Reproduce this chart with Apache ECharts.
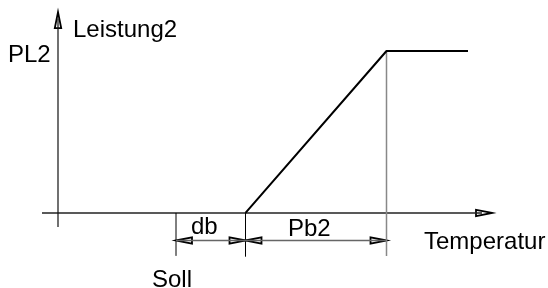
<!DOCTYPE html>
<html>
<head>
<meta charset="utf-8">
<script src="https://cdn.jsdelivr.net/npm/echarts@6/dist/echarts.min.js"></script>
<style>
  html, body { margin: 0; padding: 0; background: #fff; }
  #main { width: 548px; height: 288px; }
</style>
</head>
<body>
<div id="main"></div>
<script>
// Kennlinie Leistung2 ueber Temperatur
const tempRange = [-1.6, 43.4]      // Temperatur-Achse
const powerRange = [-8.6, 124]      // Leistung-Achse (Pfeilspitze oben)
const markT = [11.8, 18.75, 32.85]  // Soll, Soll+db, Soll+db+Pb2
const kennlinieT = [18.75, 32.85, 41.0]
const kennlinieP = [0, 100, 100]    // PL2 = 100
const dimY = -17                    // Masslinie db / Pb2
const guideBottom = [-26.5, -27, -26.5]

const txtFont = '24px "Liberation Sans", Arial, sans-serif'

function seg(points, color, width) {
  return {
    type: 'line',
    data: points,
    symbol: 'none',
    silent: true,
    lineStyle: { color: color, width: width },
    animation: false
  }
}

// Pfeilspitzen: [t, p, richtung] 0 = rechts, 1 = links, 2 = oben
const arrows = [
  [tempRange[1], 0, 0],
  [0, powerRange[1], 2],
  [markT[0], dimY, 1],
  [markT[1], dimY, 0],
  [markT[1], dimY, 1],
  [markT[2], dimY, 0]
]

const myChart = echarts.init(document.getElementById('main'))

const option = {
  backgroundColor: '#fff',
  animation: false,
  grid: { left: 42, right: 56, top: 12.1, bottom: 31.3 },
  xAxis: { type: 'value', min: tempRange[0], max: tempRange[1], show: false },
  yAxis: { type: 'value', min: -27, max: 124, show: false },
  series: [
    // Achsen
    seg([[tempRange[0], 0], [tempRange[1] - 1, 0]], '#222', 1.5),
    seg([[0, powerRange[0]], [0, powerRange[1] - 4]], '#111', 1.2),
    // Hilfslinien
    seg([[markT[0], 0], [markT[0], guideBottom[0]]], '#000', 1),
    seg([[markT[1], 0], [markT[1], guideBottom[1]]], '#000', 1),
    seg([[markT[2], kennlinieP[1]], [markT[2], guideBottom[2]]], '#888', 1.5),
    // Masslinie
    seg([[markT[0], dimY], [markT[2], dimY]], '#666', 1.5),
    // Kennlinie
    seg(kennlinieT.map((t, i) => [t, kennlinieP[i]]), '#000', 2),
    {
      type: 'custom',
      silent: true,
      data: arrows,
      renderItem: function (params, api) {
        const p = api.coord([api.value(0), api.value(1)])
        const dir = api.value(2)
        const len = 16, hw = 3.2
        let pts
        if (dir === 0) pts = [[p[0], p[1]], [p[0] - len, p[1] - hw], [p[0] - len, p[1] + hw]]
        else if (dir === 1) pts = [[p[0], p[1]], [p[0] + len, p[1] - hw], [p[0] + len, p[1] + hw]]
        else pts = [[p[0], p[1]], [p[0] - hw, p[1] + len], [p[0] + hw, p[1] + len]]
        return {
          type: 'polygon',
          shape: { points: pts },
          style: { fill: '#fff', stroke: '#000', lineWidth: 1.8 }
        }
      }
    }
  ],
  graphic: [
    { type: 'text', style: { text: 'Leistung2', x: 73, y: 30, font: txtFont, fill: '#000', textVerticalAlign: 'middle' } },
    { type: 'text', style: { text: 'PL2', x: 8, y: 55, font: txtFont, fill: '#000', textVerticalAlign: 'middle' } },
    { type: 'text', style: { text: 'db', x: 191, y: 227, font: txtFont, fill: '#000', textVerticalAlign: 'middle' } },
    { type: 'text', style: { text: 'Pb2', x: 288, y: 229, font: txtFont, fill: '#000', textVerticalAlign: 'middle' } },
    { type: 'text', style: { text: 'Temperatur', x: 424, y: 242, font: txtFont, fill: '#000', textVerticalAlign: 'middle' } },
    { type: 'text', style: { text: 'Soll', x: 152, y: 280, font: txtFont, fill: '#000', textVerticalAlign: 'middle' } }
  ]
}

myChart.setOption(option)
</script>
</body>
</html>
